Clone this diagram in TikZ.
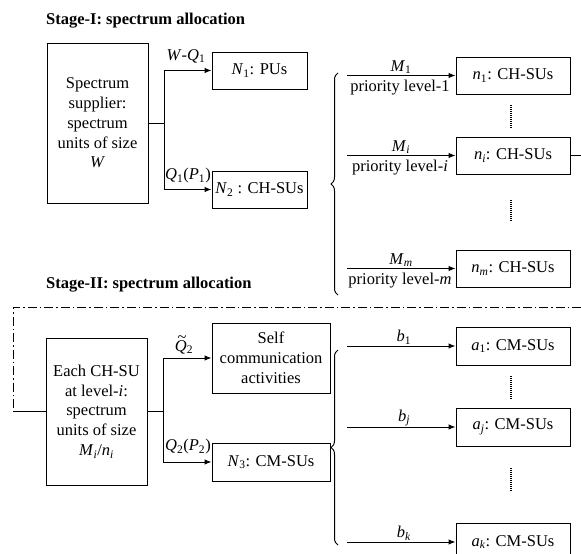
\documentclass[tikz,border=0pt]{standalone}
\usepackage{fontspec}
\setmainfont{Liberation Serif}
\usetikzlibrary{arrows.meta,decorations.pathreplacing}
\newcommand{\myQtilde}{\ooalign{\textit{Q}\cr\hidewidth\hspace{0.15em}\raisebox{0.5em}{\textasciitilde}\hidewidth\cr}}
\begin{document}
\begin{tikzpicture}[x=1pt,y=-1pt,
  font=\fontsize{16.5}{19.8}\selectfont,
  box/.style={draw, line width=1pt, inner sep=0pt, align=center},
  arr/.style={line width=1pt, -{Latex[length=7pt,width=5.5pt]}},
  conn/.style={line width=1pt},
  dotline/.style={line width=1.5pt, dash pattern=on 1pt off 1pt},
  ddot/.style={line width=1pt, dash pattern=on 9pt off 3pt on 1.5pt off 3pt},
  lbl/.style={inner sep=0pt},
  ttl/.style={font=\fontsize{16.5}{19.8}\selectfont\bfseries, anchor=west, inner sep=0pt},
  brc/.style={line width=1pt, decorate, decoration={brace, amplitude=7pt}}]
\clip (0,0) rectangle (581,554);
% ---------- Stage I ----------
\node[ttl] (t1) at (46,21) {Stage-I: spectrum allocation};
\node[box, minimum width=101pt, minimum height=160pt] (sup) at (97.5,123)
  {Spectrum\\supplier:\\spectrum\\units of size\\\textit{W}};
\node[box, minimum width=95pt, minimum height=37pt] (N1) at (259.5,70.5) {\textit{N}\textsubscript{1}: PUs};
\node[box, minimum width=95pt, minimum height=37pt] (N2) at (259.5,189.5) {\textit{N}\textsubscript{2} : CH-SUs};
\coordinate (j1) at (164,123);
\draw[conn] (sup.east) -- (j1);
\draw[arr] (j1) |- (N1.west);
\draw[arr] (j1) |- (N2.west);
\node[lbl] (lw) at (186,56) {\textit{W}-\textit{Q}\textsubscript{1}};
\node[lbl] (lq) at (188,176) {\textit{Q}\textsubscript{1}(\textit{P}\textsubscript{1})};
\draw[brc] (338,295) -- (338,73);
\node[box, minimum width=114pt, minimum height=37pt] (c1) at (513,75.5) {\textit{n}\textsubscript{1}: CH-SUs};
\node[box, minimum width=114pt, minimum height=37pt] (ci) at (513,155.5) {\textit{n}\textsubscript{\textit{i}}: CH-SUs};
\node[box, minimum width=114pt, minimum height=37pt] (cm) at (513,268.5) {\textit{n}\textsubscript{\textit{m}}: CH-SUs};
\coordinate (s1) at (347,75.5);
\coordinate (si) at (347,155.5);
\coordinate (sm) at (347,268.5);
\draw[arr] (s1) -- (c1.west);
\draw[arr] (si) -- (ci.west);
\draw[arr] (sm) -- (cm.west);
\node[lbl] (m1) at (401,67) {\textit{M}\textsubscript{1}};
\node[lbl] (p1) at (400,88) {priority level-1};
\node[lbl] (mi) at (401,147) {\textit{M}\textsubscript{\textit{i}}};
\node[lbl] (pi) at (400,168) {priority level-\textit{i}};
\node[lbl] (mm) at (401,260) {\textit{M}\textsubscript{\textit{m}}};
\node[lbl] (pm) at (400,281) {priority level-\textit{m}};
\coordinate (ri) at (581,155.5);
\draw[conn] (ci.east) -- (ri);
\draw[dotline] (511,105) -- (511,128);
\draw[dotline] (511,200) -- (511,222);
% ---------- Stage II ----------
\node[ttl] (t2) at (46,285) {Stage-II: spectrum allocation};
\node[box, minimum width=101pt, minimum height=147pt] (ch) at (96.5,411.5)
  {Each CH-SU\\at level-\textit{i}:\\spectrum\\units of size\\\textit{M}\textsubscript{\textit{i}}/\textit{n}\textsubscript{\textit{i}}};
\coordinate (dr) at (581,307);
\coordinate (dl) at (13,307);
\coordinate (dc) at (13,411.5);
\draw[ddot] (dr) -- (dl) -- (dc);
\draw[conn] (dc) -- (ch.west);
\node[box, minimum width=118pt, minimum height=70pt] (self) at (271,358) {Self\\communication\\activities};
\node[box, minimum width=118pt, minimum height=38pt] (n3) at (271,462) {\textit{N}\textsubscript{3}: CM-SUs};
\coordinate (j2) at (163,411.5);
\draw[conn] (ch.east) -- (j2);
\draw[arr] (j2) |- (self.west);
\draw[arr] (j2) |- (n3.west);
\node[lbl] (lqt) at (184,347) {\myQtilde\textsubscript{2}};
\node[lbl] (lq2) at (188,447) {\textit{Q}\textsubscript{2}(\textit{P}\textsubscript{2})};
\draw[brc] (338,545) -- (338,350);
\node[box, minimum width=114pt, minimum height=38pt] (a1) at (513,346) {\textit{a}\textsubscript{1}: CM-SUs};
\node[box, minimum width=114pt, minimum height=38pt] (aj) at (513,427) {\textit{a}\textsubscript{\textit{j}}: CM-SUs};
\node[box, minimum width=114pt, minimum height=38pt] (ak) at (513,542) {\textit{a}\textsubscript{\textit{k}}: CM-SUs};
\coordinate (u1) at (347,346);
\coordinate (uj) at (347,427);
\coordinate (uk) at (347,542);
\draw[arr] (u1) -- (a1.west);
\draw[arr] (uj) -- (aj.west);
\draw[arr] (uk) -- (ak.west);
\node[lbl] (b1) at (404,337) {\textit{b}\textsubscript{1}};
\node[lbl] (bj) at (404,418) {\textit{b}\textsubscript{\textit{j}}};
\node[lbl] (bk) at (404,533) {\textit{b}\textsubscript{\textit{k}}};
\draw[dotline] (511,376) -- (511,399);
\draw[dotline] (511,468) -- (511,491);
\end{tikzpicture}
\end{document}
